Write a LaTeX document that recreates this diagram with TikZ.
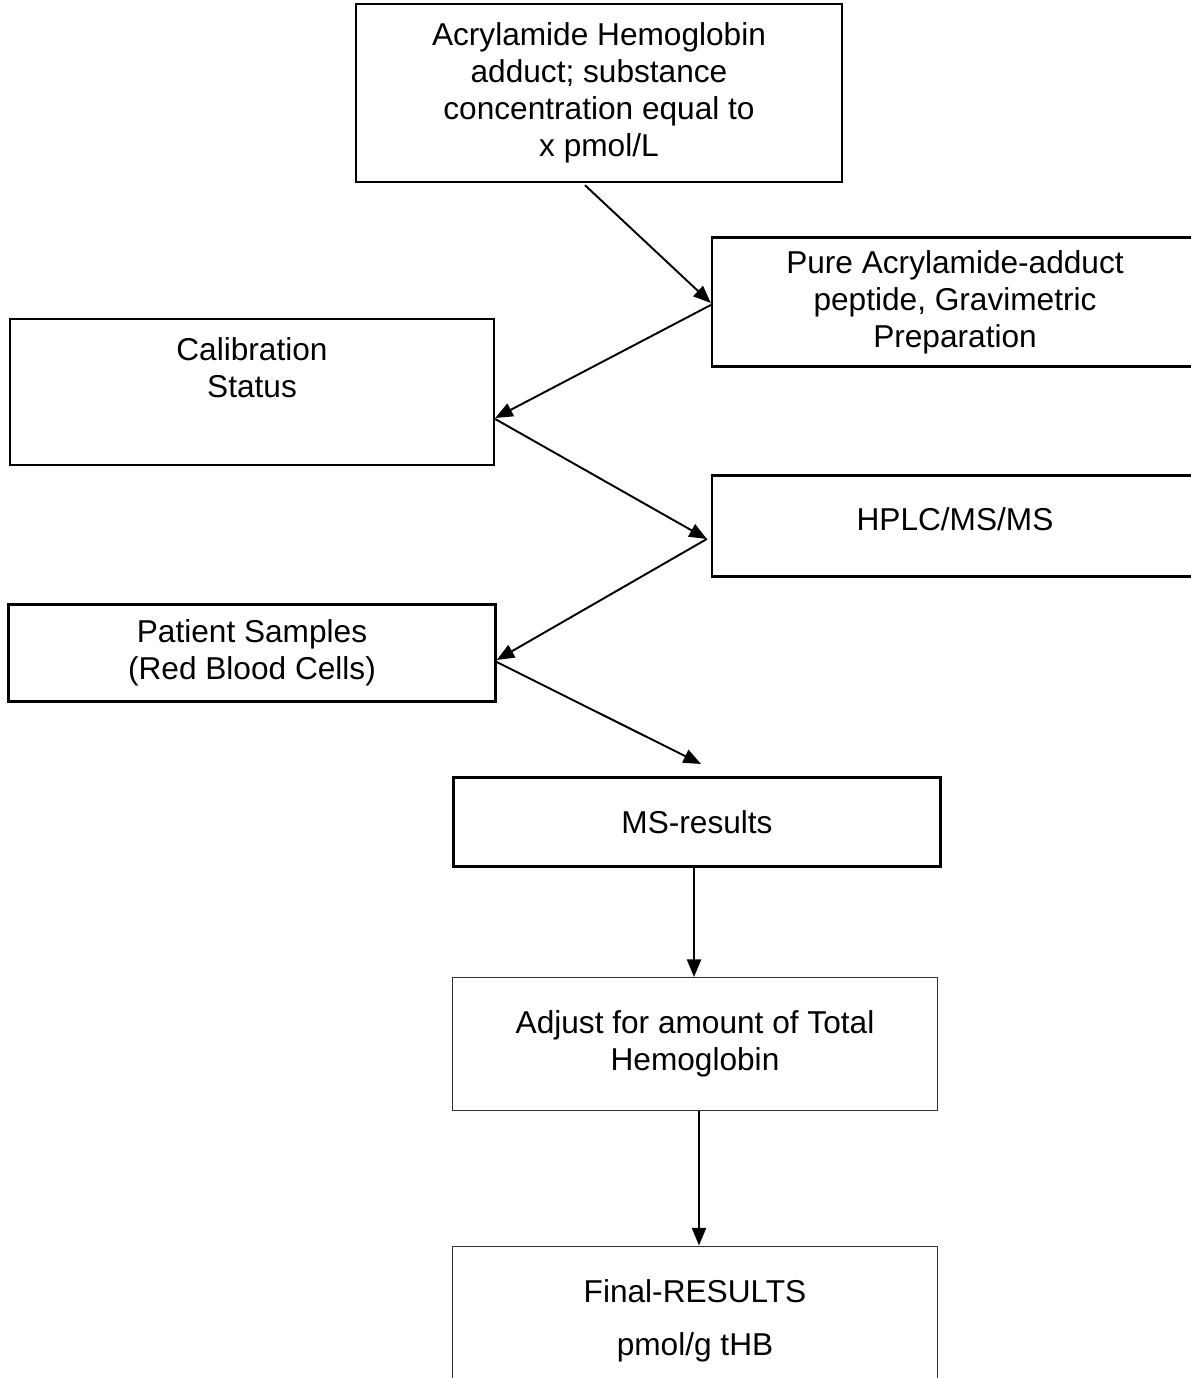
\documentclass[tikz,border=0pt]{standalone}
\usepackage{fontspec}
\setmainfont{Liberation Sans}
\usetikzlibrary{positioning}
\usetikzlibrary{arrows.meta}

\tikzset{
  flowbox/.style={draw=black, line width=1.4pt, minimum width=9.72cm, align=center, font=\fontsize{18}{21}\selectfont},
  thinbox/.style={draw=black!80, line width=0.6pt, minimum width=9.72cm, align=center, font=\fontsize{18}{21}\selectfont},
  flowarrow/.style={line width=1.1pt, -{Triangle[length=10pt,width=8pt]}}
}

\begin{document}
\begin{tikzpicture}[x=0.02cm, y=-0.02cm]
\useasboundingbox (0,0) rectangle (1190,1378);

%%%%%%%%%%%%     Boxes   %%%%%%%%%%%%
{
\node[flowbox, minimum height=3.56cm] (adduct) at (599,93) {Acrylamide Hemoglobin\\adduct; substance\\concentration equal to\\x pmol/L};

\node[flowbox, minimum height=2.58cm] (pure) at (955,302) {Pure Acrylamide-adduct\\peptide, Gravimetric\\Preparation};

\node[flowbox, minimum height=2.92cm, minimum width=9.68cm] (calib) at (252,392) {Calibration\\Status\\[7pt]\mbox{}};

\node[flowbox, minimum height=2.02cm] (hplc) at (955,526) {HPLC/MS/MS\\[-13pt]\mbox{}};

\node[flowbox, minimum height=1.94cm, minimum width=9.74cm] (patient) at (252,653) {Patient Samples\\(Red Blood Cells)};

\node[flowbox, minimum height=1.78cm, minimum width=9.74cm] (msres) at (697,822) {MS-results};
}

%%%%%%%%%%%%     Lower boxes   %%%%%%%%%%%%
{
\node[thinbox, minimum height=2.66cm] (adjust) at (695,1044) {Adjust for amount of Total\\Hemoglobin};

\node[thinbox, minimum height=3.0cm, font=\fontsize{18}{30}\selectfont] (final) at (695,1321) {Final-RESULTS\\pmol/g tHB};
}

%%%%%%%%%%%%     Arrows   %%%%%%%%%%%%
{
\coordinate (msin) at (701,764);

\draw[flowarrow] ([xshift=-0.28cm,yshift=-0.04cm]adduct.south) -- ([yshift=-0.02cm]pure.west);
\draw[flowarrow] ([yshift=-0.06cm]pure.west) -- ([yshift=-0.52cm]calib.east);
\draw[flowarrow] ([yshift=-0.54cm]calib.east) -- ([xshift=-0.08cm,yshift=-0.26cm]hplc.west);
\draw[flowarrow] ([xshift=-0.08cm,yshift=-0.26cm]hplc.west) -- ([yshift=-0.14cm]patient.east);
\draw[flowarrow] ([yshift=-0.18cm]patient.east) -- (msin);
\draw[flowarrow] ([xshift=-0.06cm]msres.south) -- ([xshift=-0.02cm]adjust.north);
\draw[flowarrow] ([xshift=0.08cm]adjust.south) -- ([xshift=0.08cm]final.north);
}

\end{tikzpicture}
\end{document}
